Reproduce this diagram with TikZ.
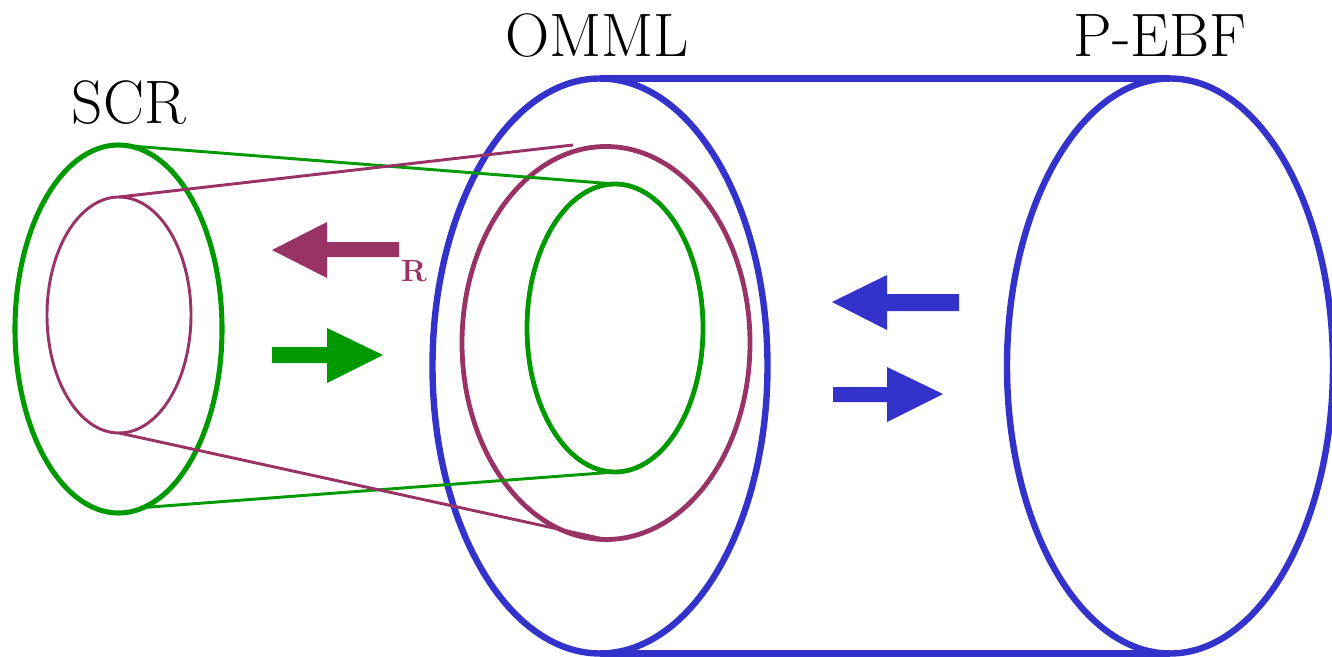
\documentclass[tikz,border=0pt]{standalone}
\usepackage{fontspec}
\usetikzlibrary{shapes.geometric}
\definecolor{cgreen}{HTML}{009900}
\definecolor{cpurple}{HTML}{993366}
\definecolor{cblue}{HTML}{3333CC}
\tikzset{
  ell/.style={ellipse, inner sep=0pt, outer sep=0pt, draw},
  lbl/.style={anchor=base, font=\rmfamily\fontsize{46}{50}\selectfont},
  conn/.style={line width=2.2pt}
}
\begin{document}
\begin{tikzpicture}[x=0.75pt,y=-0.75pt]
\useasboundingbox (0,0) rectangle (1332,657);
% ellipses
\node[ell, cgreen, line width=3.8pt, minimum width=155.25pt, minimum height=276pt] (scro) at (118.5,329) {};
\node[ell, cpurple, line width=2.2pt, minimum width=108pt, minimum height=177pt] (scri) at (119,315) {};
\node[ell, cblue, line width=4.8pt, minimum width=251.25pt, minimum height=431.25pt] (omml) at (600,366) {};
\node[ell, cpurple, line width=3.6pt, minimum width=216pt, minimum height=294.75pt] (ommlp) at (606,343) {};
\node[ell, cgreen, line width=3.6pt, minimum width=132pt, minimum height=216pt] (ommlg) at (615,328) {};
\node[ell, cblue, line width=4.8pt, minimum width=244.5pt, minimum height=431.25pt] (pebf) at (1170,366) {};
\coordinate (ptopend) at (573,145);
% connectors
\draw[conn, cgreen] (scro.north) -- (ommlg.north);
\draw[conn, cgreen] (scro.-82) -- (ommlg.south);
\draw[conn, cpurple] (scri.north) -- (ptopend);
\draw[conn, cpurple] (scri.south) -- (ommlp.south);
\draw[cblue, line width=4.8pt] (omml.north) -- (pebf.north);
\draw[cblue, line width=4.8pt] (omml.south) -- (pebf.south);
% labels
\node[lbl] (scr) at (129,123) {SCR};
\node[lbl] (omlbl) at (597,56) {OMML};
\node[lbl] (pe) at (1160,56) {P-EBF};
\node[anchor=base, text=cpurple, font=\rmfamily\fontsize{23}{26}\selectfont\bfseries] (r) at (414,281) {R};
% arrows
\fill[cpurple] (399,242) -- (327,242) -- (327,222) -- (272,250) -- (327,278) -- (327,257) -- (399,257) -- cycle;
\fill[cgreen] (272,347) -- (327,347) -- (327,328) -- (383,355) -- (327,383) -- (327,363) -- (272,363) -- cycle;
\fill[cblue] (959,294) -- (887,294) -- (887,275) -- (832,302) -- (887,330) -- (887,311) -- (959,311) -- cycle;
\fill[cblue] (833,387) -- (887,387) -- (887,367) -- (943,394) -- (887,422) -- (887,402) -- (833,402) -- cycle;
\end{tikzpicture}
\end{document}
